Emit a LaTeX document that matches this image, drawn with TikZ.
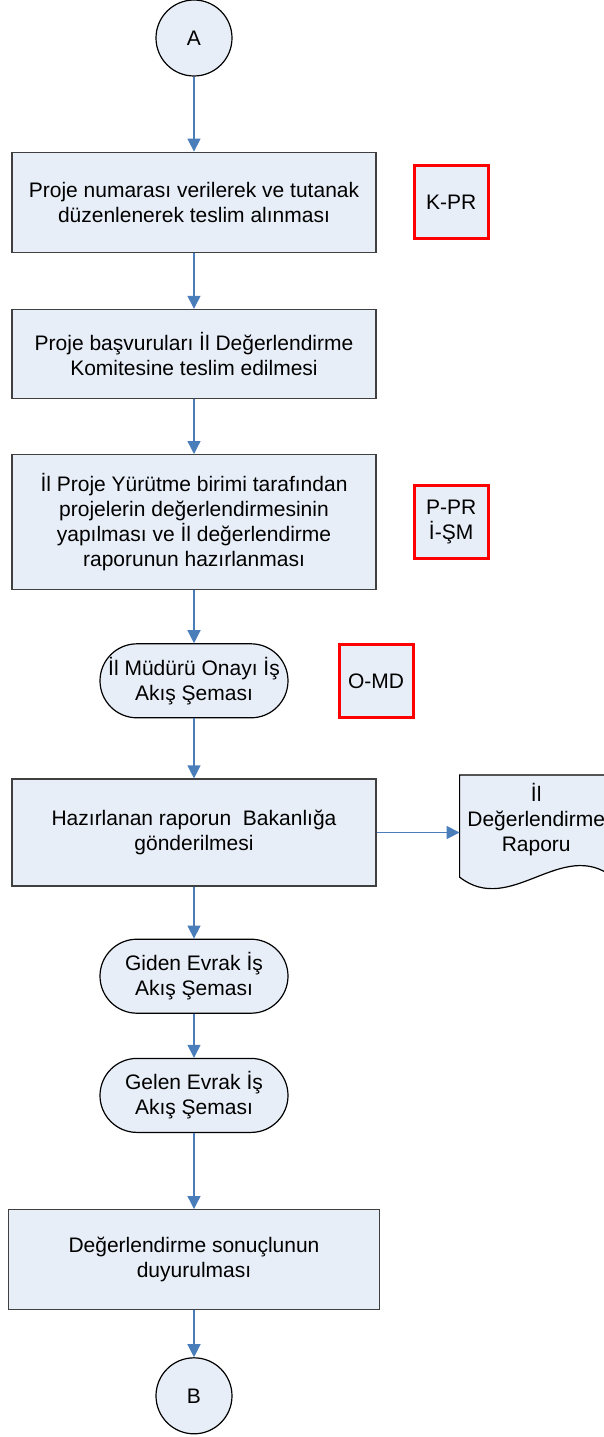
\documentclass[tikz,border=0pt]{standalone}
\usepackage{fontspec}
\setmainfont{Liberation Sans}
\usepackage{tikz}
\usetikzlibrary{
        shapes,
        positioning,
        arrows.meta,
        backgrounds
    }
\definecolor{boxfill}{HTML}{E8EEF7}
\definecolor{flowblue}{HTML}{4A7EBB}
\definecolor{edgegray}{HTML}{404040}

\begin{document}
\begin{tikzpicture}
[baseshape/.style={text centered, align=center, font=\fontsize{21pt}{25pt}\selectfont, draw=edgegray, line width=1.2pt, fill=boxfill, inner sep=0pt},
connector/.style={baseshape, circle, draw=black, minimum size=76pt},
process/.style={baseshape, rectangle, minimum width=364pt},
subflow/.style={baseshape, rectangle, rounded corners=37pt, draw=black, minimum width=188pt, minimum height=74pt},
docref/.style={baseshape, rectangle, draw=red, line width=3pt, minimum width=74pt, minimum height=73pt},
docshape/.style={baseshape, draw=none, fill=none, minimum width=152pt, minimum height=89pt},
docline/.style={fill=boxfill, draw=black, line width=1.2pt},
arrow/.style={flowblue, line width=1.3pt, -{Triangle[length=13pt, width=13pt]}},
node distance=56pt,]
\useasboundingbox (0,0) rectangle (603pt,-1437pt);

\node (startA) [connector] at (194pt,-38pt) {A};
\node (step1) [process, minimum height=100pt, below=75pt of startA]{Proje numarası verilerek ve tutanak\\düzenlenerek teslim alınması};
\node (step2) [process, minimum height=89pt, below=56pt of step1]{Proje başvuruları İl Değerlendirme\\Komitesine teslim edilmesi};
\node (step3) [process, minimum height=135pt, below=55pt of step2]{İl Proje Yürütme birimi tarafından\\projelerin değerlendirmesinin\\yapılması ve İl değerlendirme\\raporunun hazırlanması};
\node (sub1) [subflow, below=53pt of step3]{İl Müdürü Onayı İş\\Akış Şeması};
\node (step5) [process, minimum height=107pt, below=60pt of sub1]{Hazırlanan raporun~ Bakanlığa\\gönderilmesi};
\node (sub2) [subflow, below=52pt of step5]{Giden Evrak İş\\Akış Şeması};
\node (sub3) [subflow, below=44pt of sub2]{Gelen Evrak İş\\Akış Şeması};
\node (step6) [process, minimum width=371pt, minimum height=100pt, below=76pt of sub3]{Değerlendirme sonuçlunun\\duyurulması};
\node (endB) [connector, below=47pt of step6]{B};

\node (refKPR) [docref, right=36pt of step1]{K-PR};
\node (refPPR) [docref, right=36pt of step3]{P-PR\\İ-ŞM};
\node (refOMD) [docref, right=49pt of sub1]{O-MD};
\node (report) [docshape, right=83pt of step5, yshift=12.5pt]{İl\\Değerlendirme\\Raporu};

\begin{scope}[on background layer]
\path [docline] ([yshift=-12pt]report.south west) -- (report.north west) -- (report.north east) -- ([yshift=-12pt]report.south east) .. controls +(-51pt,40pt) and +(51pt,-40pt) .. ([yshift=-12pt]report.south west) -- cycle;
\end{scope}

\draw [arrow] (startA) -- (step1);
\draw [arrow] (step1) -- (step2);
\draw [arrow] (step2) -- (step3);
\draw [arrow] (step3) -- (sub1);
\draw [arrow] (sub1) -- (step5);
\draw [arrow] (step5.east) -- (step5.east -| report.west);
\draw [arrow] (step5) -- (sub2);
\draw [arrow] (sub2) -- (sub3);
\draw [arrow] (sub3) -- (step6);
\draw [arrow] (step6) -- (endB);

\end{tikzpicture}
\end{document}
